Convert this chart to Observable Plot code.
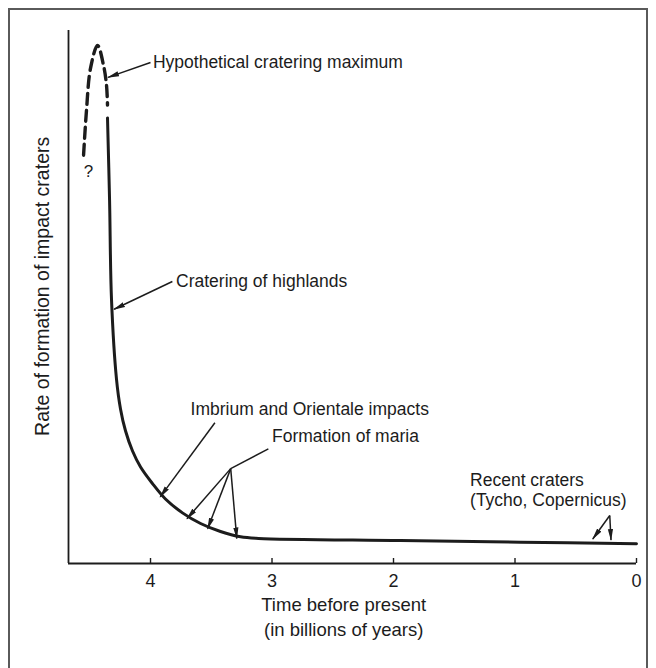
<!DOCTYPE html>
<html>
<head>
<meta charset="utf-8">
<script src="https://cdn.jsdelivr.net/npm/d3@7"></script>
<script src="https://cdn.jsdelivr.net/npm/@observablehq/plot@0.6"></script>
<style>
  html, body { margin: 0; padding: 0; background: #fff; overflow: hidden; }
  #wrap { position: relative; width: 656px; height: 668px; }
  #border { position: absolute; left: 8px; top: 8px; width: 640px; height: 700px; border: 2px solid #5a5a5a; box-sizing: border-box; }
  #chart { position: absolute; left: 0; top: 0; }
</style>
</head>
<body>
<div id="wrap"><div id="border"></div><div id="chart"></div></div>
<script>
// Time before present (billions of years) and relative cratering rate
const hypoTime = [4.551, 4.527, 4.494, 4.436, 4.387, 4.362, 4.354];
const hypoRate = [76.6, 85.0, 92.9, 97.2, 93.5, 89.7, 86.0];

const curveTime = [4.354, 4.337, 4.321, 4.280, 4.247, 4.206, 4.148, 4.082, 3.984, 3.877, 3.737, 3.588, 3.424, 3.259, 3.111, 1.942, 0.955, 0];
const curveRate = [83.6, 68.2, 49.5, 34.6, 29.0, 24.9, 21.1, 18.1, 15.0, 12.1, 9.5, 7.5, 6.0, 5.0, 4.7, 4.3, 4.0, 3.7];

const xTicks = [4, 3, 2, 1, 0];
const xTickLabels = ["4", "3", "2", "1", "0"];

const labelText = ["Hypothetical cratering maximum", "Cratering of highlands", "Imbrium and Orientale impacts", "Formation of maria", "Recent craters", "(Tycho, Copernicus)"];
const labelTime = [3.98, 3.79, 3.67, 3.00, 1.37, 1.37];
const labelRate = [94.0, 52.9, 29.0, 23.9, 15.5, 11.8];

// Arrows: start (time, rate) -> end (time, rate)
const arrowFromTime = [4.00, 3.82, 3.47, 3.34, 3.34, 3.34, 0.22, 0.22];
const arrowFromRate = [94.0, 52.9, 26.4, 17.8, 17.8, 17.8, 9.0, 9.0];
const arrowToTime   = [4.35, 4.30, 3.92, 3.70, 3.53, 3.29, 0.36, 0.21];
const arrowToRate   = [91.2, 47.7, 12.5, 8.4, 6.5, 4.7, 4.6, 4.4];

// plain connector line (no head) for "Formation of maria"
const connFromTime = [3.03];
const connFromRate = [21.5];
const connToTime = [3.34];
const connToRate = [17.8];

const yTitle = "Rate of formation of impact craters";
const xTitle1 = "Time before present";
const xTitle2 = "(in billions of years)";
const qMark = "?";

const hypo = hypoTime.map((t, i) => ({t, r: hypoRate[i]}));
const curve = curveTime.map((t, i) => ({t, r: curveRate[i]}));
const labels = labelText.map((s, i) => ({s, t: labelTime[i], r: labelRate[i]}));
const arrows = arrowFromTime.map((t, i) => ({x1: t, y1: arrowFromRate[i], x2: arrowToTime[i], y2: arrowToRate[i]}));
const conns = connFromTime.map((t, i) => ({x1: t, y1: connFromRate[i], x2: connToTime[i], y2: connToRate[i]}));

function filledHead(color) {
  const ns = "http://www.w3.org/2000/svg";
  const m = document.createElementNS(ns, "marker");
  m.setAttribute("viewBox", "-11 -3 12 6");
  m.setAttribute("markerWidth", 12);
  m.setAttribute("markerHeight", 6);
  m.setAttribute("markerUnits", "userSpaceOnUse");
  m.setAttribute("refX", 0);
  m.setAttribute("refY", 0);
  m.setAttribute("orient", "auto");
  const p = document.createElementNS(ns, "path");
  p.setAttribute("d", "M-11,-2.6L1,0L-11,2.6Z");
  p.setAttribute("fill", color);
  p.setAttribute("stroke", "none");
  m.appendChild(p);
  return m;
}

const ink = "#1c1c1c";
const font = "'Liberation Sans', Arial, sans-serif";

const chart = Plot.plot({
  width: 656,
  height: 668,
  marginLeft: 68,
  marginRight: 20,
  marginTop: 30,
  marginBottom: 105,
  style: {fontFamily: font, background: "transparent", color: ink},
  x: {domain: [4.675, 0], axis: null},
  y: {domain: [0, 100], axis: null},
  marks: [
    Plot.ruleX([4.675], {stroke: ink, strokeWidth: 1.8}),
    Plot.ruleY([0], {stroke: ink, strokeWidth: 1.8}),
    Plot.axisX(xTicks, {tickSize: -5, tickPadding: 16, tickFormat: (d, i) => xTickLabels[i], fontSize: 18, stroke: ink, fill: ink, strokeWidth: 1.4}),
    Plot.line(hypo, {x: "t", y: "r", curve: "catmull-rom", stroke: ink, strokeWidth: 3.4, strokeDasharray: "11,6"}),
    Plot.line(curve, {x: "t", y: "r", curve: "catmull-rom", stroke: ink, strokeWidth: 3}),
    Plot.link(conns, {x1: "x1", y1: "y1", x2: "x2", y2: "y2", stroke: ink, strokeWidth: 1.5}),
    Plot.link(arrows, {x1: "x1", y1: "y1", x2: "x2", y2: "y2", stroke: ink, strokeWidth: 1.5, markerEnd: filledHead}),
    Plot.text(labels, {x: "t", y: "r", text: "s", textAnchor: "start", fontSize: 17.5, fill: ink}),
    Plot.text([qMark], {x: 4.51, y: 73.5, fontSize: 17, fill: ink}),
    Plot.text([yTitle], {x: 4.889, y: 52, rotate: -90, fontSize: 19.5, fill: ink}),
    Plot.text([xTitle1], {x: 2.41, y: -7.85, fontSize: 18.5, fill: ink}),
    Plot.text([xTitle2], {x: 2.41, y: -12.5, fontSize: 18.5, fill: ink})
  ]
});
chart.style.overflow = "visible";
document.getElementById("chart").appendChild(chart);
</script>
</body>
</html>
